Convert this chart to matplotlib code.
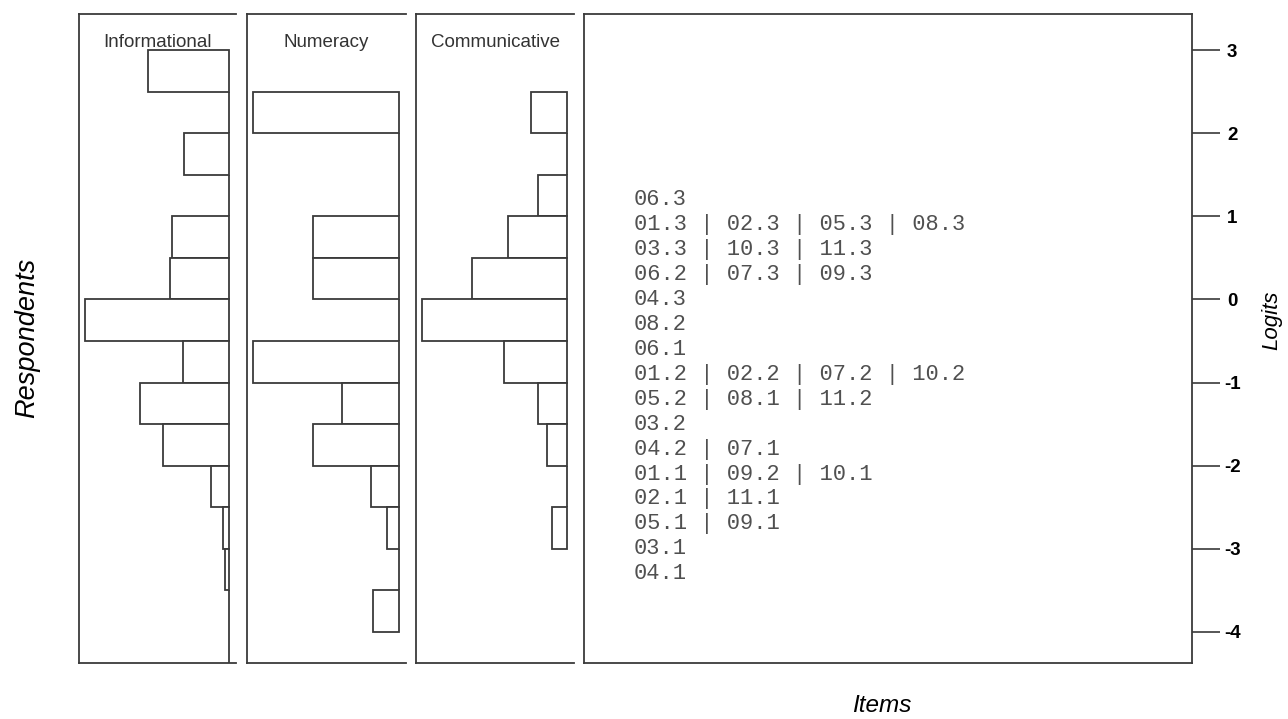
import matplotlib
matplotlib.use("Agg")
from matplotlib import pyplot as plt

# bins of 0.5 logits, listed from the top bin downwards
bin_width = 0.5
info_top = 3.0
info_pct = [13.2, 0, 7.3, 0, 9.3, 9.6, 23.4, 7.5, 14.4, 10.7, 3.0, 1.0, 0.7, 0, 0]
num_top = 2.5
num_pct = [21.5, 0, 0, 12.7, 12.7, 0, 21.5, 8.4, 12.7, 4.2, 1.8, 0, 3.9]
comm_top = 2.5
comm_pct = [7.4, 0, 5.9, 12.0, 19.3, 29.5, 12.8, 5.9, 4.1, 0, 3.1]

panel_titles = ['Informational', 'Numeracy', 'Communicative']

item_rows = [['06.3'], ['01.3', '02.3', '05.3', '08.3'], ['03.3', '10.3', '11.3'],
             ['06.2', '07.3', '09.3'], ['04.3'], ['08.2'], ['06.1'],
             ['01.2', '02.2', '07.2', '10.2'], ['05.2', '08.1', '11.2'], ['03.2'],
             ['04.2', '07.1'], ['01.1', '09.2', '10.1'], ['02.1', '11.1'],
             ['05.1', '09.1'], ['03.1'], ['04.1']]
row_logits = [1.2, 0.9, 0.6, 0.3, 0.0, -0.3, -0.6, -0.9, -1.2, -1.5, -1.8, -2.1, -2.4, -2.7, -3.0, -3.3]

logit_ticks = [3, 2, 1, 0, -1, -2, -3, -4]

line_col = '#3a3a3a'
ylim = (-4.367, 3.433)

plt.rcParams['font.family'] = ['Liberation Sans', 'DejaVu Sans']

W, H = 1288, 719
fig = plt.figure(figsize=(W / 100, H / 100), dpi=100)


def px_axes(x0, x1, y0=14, y1=662.5):
    return fig.add_axes([x0 / W, 1 - y1 / H, (x1 - x0) / W, (y1 - y0) / H])


hist_boxes = [(79, 236), (247, 406), (416, 574)]
hist_data = [(info_top, info_pct), (num_top, num_pct), (comm_top, comm_pct)]

for (x0, x1), (top, vals), title in zip(hist_boxes, hist_data, panel_titles):
    ax = px_axes(x0, x1)
    centers = [top - bin_width * (i + 0.5) for i in range(len(vals))]
    ax.barh(centers, vals, height=bin_width, left=0, color='white',
            edgecolor=line_col, linewidth=1.3)
    m = max(vals)
    ax.set_xlim(m * 1.04, -m * 0.045)
    ax.set_ylim(*ylim)
    ax.set_xticks([])
    ax.set_yticks([])
    ax.spines['right'].set_visible(False)
    for s in ['left', 'top', 'bottom']:
        ax.spines[s].set_color(line_col)
        ax.spines[s].set_linewidth(1.3)
    ax.text(0.5, 0.956, title, transform=ax.transAxes, ha='center', va='center',
            fontsize=13.5, color='#333333')

# item panel
ax = px_axes(584, 1192)
ax.set_xlim(0, 1)
ax.set_ylim(*ylim)
ax.set_xticks([])
for s in ax.spines.values():
    s.set_color(line_col)
    s.set_linewidth(1.3)
for row, y in zip(item_rows, row_logits):
    ax.text(0.082, y, ' | '.join(row), ha='left', va='center', fontsize=15.8,
            family=['Liberation Mono', 'DejaVu Sans Mono'], color='#505050')

ax.yaxis.tick_right()
ax.set_yticks(logit_ticks)
ax.set_yticklabels([str(t) for t in logit_ticks], fontweight='bold', fontsize=13.5)
ax.tick_params(axis='y', length=20, width=1.2, color=line_col, pad=9)
for lab in ax.get_yticklabels():
    lab.set_horizontalalignment('center')

fig.text(1272 / W, 1 - 320 / H, 'Logits', rotation=90, ha='center', va='center',
         fontsize=16, style='italic')
fig.text(27 / W, 1 - 338 / H, 'Respondents', rotation=90, ha='center', va='center',
         fontsize=19.5, style='italic')
fig.text(882 / W, 1 - 706 / H, 'Items', ha='center', va='center',
         fontsize=17.5, style='italic')

fig.savefig('out.png', dpi=100, facecolor='white')
